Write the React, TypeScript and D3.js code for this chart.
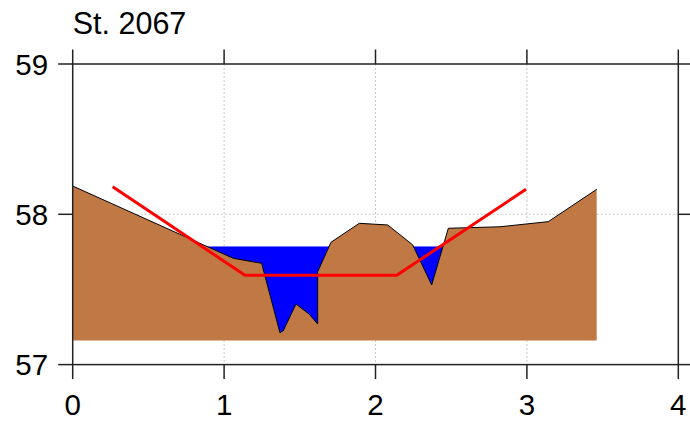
import React from "react";
import * as d3 from "d3";

const title = "St. 2067";
const terrainX = [0.0, 1.061, 1.248, 1.369, 1.391, 1.475, 1.563, 1.618, 1.618, 1.706, 1.893, 2.081, 2.246, 2.371, 2.481, 2.822, 3.141, 3.461];
const terrainY = [58.188, 57.707, 57.674, 57.212, 57.226, 57.403, 57.335, 57.27, 57.618, 57.814, 57.94, 57.929, 57.796, 57.53, 57.907, 57.917, 57.951, 58.166];
const bedBottom = 57.16;
const waterLevel = 57.786;
const channelX = [0.264, 1.138, 2.14, 2.994];
const channelY = [58.184, 57.594, 57.594, 58.166];
const xTicks = [0, 1, 2, 3, 4];
const yTicks = [57, 58, 59];

const W = 690, H = 424;
const L = 72.7, R = 678.3, T = 64, B = 364.6;
const TICK = 14.5;
const FONT = "'Liberation Sans', Arial, Helvetica, sans-serif";

export default function App() {
  const x = d3.scaleLinear().domain([0, 4]).range([L, R]);
  const y = d3.scaleLinear().domain([57, 59]).range([B, T]);

  const terrain = terrainX.map((v, i) => [v, terrainY[i]] as [number, number]);
  const area = d3.area<[number, number]>()
    .x(d => x(d[0]))
    .y0(y(bedBottom))
    .y1(d => y(d[1]));
  const line = d3.line<[number, number]>().x(d => x(d[0])).y(d => y(d[1]));
  const channel = channelX.map((v, i) => [v, channelY[i]] as [number, number]);

  // water extent: crossings of the terrain with the water level
  const crossings: number[] = [];
  for (let i = 0; i < terrain.length - 1; i++) {
    const [x0, y0] = terrain[i];
    const [x1, y1] = terrain[i + 1];
    if ((y0 - waterLevel) * (y1 - waterLevel) < 0) {
      crossings.push(x0 + ((waterLevel - y0) / (y1 - y0)) * (x1 - x0));
    }
  }
  const wx0 = d3.min(crossings)!, wx1 = d3.max(crossings)!;
  const deepest = d3.min(terrainY)!;

  return (
    <svg width={W} height={H} style={{ position: "absolute", left: 0, top: 0, background: "#fff" }} fontFamily={FONT}>
      {/* grid */}
      <g stroke="#c8c8c8" strokeWidth={1} strokeDasharray="2,2">
        {xTicks.filter(t => t > 0 && t < 4).map(t => (
          <line key={"gx" + t} x1={x(t)} x2={x(t)} y1={T} y2={B} />
        ))}
        {yTicks.filter(t => t > 57 && t < 59).map(t => (
          <line key={"gy" + t} x1={L} x2={R} y1={y(t)} y2={y(t)} />
        ))}
      </g>
      {/* water */}
      <rect x={x(wx0) - 1} width={x(wx1) - x(wx0) + 2} y={y(waterLevel)} height={y(deepest) - y(waterLevel) + 2} fill="#0000ff" />
      {/* terrain */}
      <path d={area(terrain)!} fill="#c07844" />
      <path d={line(terrain)!} fill="none" stroke="#000" strokeWidth={1} />
      {/* channel design */}
      <path d={line(channel)!} fill="none" stroke="#ff0000" strokeWidth={3} />
      {/* frame & ticks */}
      <g stroke="#222" strokeWidth={1.5}>
        <rect x={L} y={T} width={R - L} height={B - T} fill="none" />
        {xTicks.map(t => (
          <g key={"tx" + t}>
            <line x1={x(t)} x2={x(t)} y1={B} y2={B + TICK} />
            <line x1={x(t)} x2={x(t)} y1={T} y2={T - TICK} />
          </g>
        ))}
        {yTicks.map(t => (
          <g key={"ty" + t}>
            <line x1={L} x2={L - TICK} y1={y(t)} y2={y(t)} />
            <line x1={R} x2={R + TICK} y1={y(t)} y2={y(t)} />
          </g>
        ))}
      </g>
      <g fontSize={29.5} fill="#000">
        {xTicks.map(t => (
          <text key={"lx" + t} x={x(t)} y={415} textAnchor="middle">{t}</text>
        ))}
        {yTicks.map(t => (
          <text key={"ly" + t} x={L - TICK - 10} y={y(t) + 10.5} textAnchor="end">{t}</text>
        ))}
        <text x={L} y={34} fontSize={30.5}>{title}</text>
      </g>
    </svg>
  );
}
